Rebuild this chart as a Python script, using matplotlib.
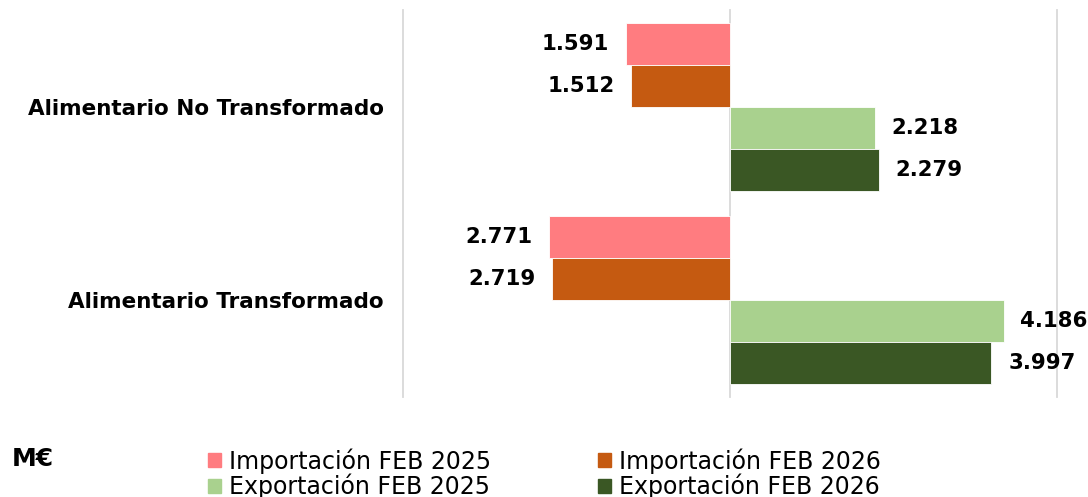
import numpy as np
import matplotlib
matplotlib.use("Agg")
import matplotlib.pyplot as plt
from matplotlib.patches import Patch

categories = ["Alimentario No Transformado", "Alimentario Transformado"]
imp_2025 = [1591, 2771]
imp_2026 = [1512, 2719]
exp_2025 = [2218, 4186]
exp_2026 = [2279, 3997]
series_names = ["Importación FEB 2025", "Importación FEB 2026",
                "Exportación FEB 2025", "Exportación FEB 2026"]
colors = ["#FF7C80", "#C55A11", "#A9D18E", "#3A5724"]


def fmt(v):
    return f"{v:,}".replace(",", ".")


plt.rcParams['font.family'] = ['DejaVu Sans']
fig = plt.figure(figsize=(10.88, 4.97), dpi=100)
ax = fig.add_axes([0.3704, 0.2012, 0.6011, 0.7787])

y = np.arange(len(categories))
h = 0.2175
offsets = [-1.5 * h, -0.5 * h, 0.5 * h, 1.5 * h]
values = [[-v for v in imp_2025], [-v for v in imp_2026], exp_2025, exp_2026]

for vals, off, c in zip(values, offsets, colors):
    bars = ax.barh(y + off, vals, height=h, color=c, edgecolor="white", linewidth=0.6, zorder=2)
    for b, v in zip(bars, vals):
        yc = b.get_y() + b.get_height() / 2
        if v < 0:
            ax.annotate(fmt(-v), (v, yc), xytext=(-12, 0), textcoords="offset points",
                        ha="right", va="center", fontsize=15.3, fontweight="bold")
        else:
            ax.annotate(fmt(v), (v, yc), xytext=(12, 0), textcoords="offset points",
                        ha="left", va="center", fontsize=15.3, fontweight="bold")

ax.set_xlim(-5000, 5000)
ax.set_ylim(1.5, -0.5)
ax.set_xticks([-5000, 0, 5000])
ax.set_xticklabels([])
ax.tick_params(axis="x", length=0)
ax.xaxis.grid(True, color="#D9D9D9", linewidth=1.3, zorder=0)
for gl in ax.get_xgridlines():
    gl.set_clip_on(False)
ax.set_axisbelow(True)
ax.set_yticks(y)
ax.set_yticklabels(categories, fontsize=15.5, fontweight="bold")
ax.tick_params(axis="y", length=0, pad=14)
for s in ax.spines.values():
    s.set_visible(False)

handles = [Patch(color=colors[0], label=series_names[0]),
           Patch(color=colors[2], label=series_names[2]),
           Patch(color=colors[1], label=series_names[1]),
           Patch(color=colors[3], label=series_names[3])]
fig.legend(handles=handles, ncol=2, loc="center left", bbox_to_anchor=(0.1825, 0.047),
           frameon=False, fontsize=17, handlelength=0.55, handleheight=0.55,
           handletextpad=0.35, columnspacing=4.5, labelspacing=0.0, borderaxespad=0)
fig.text(0.011, 0.077, "M€", fontsize=18, fontweight="bold", va="center")

fig.savefig("out.png", dpi=100)
